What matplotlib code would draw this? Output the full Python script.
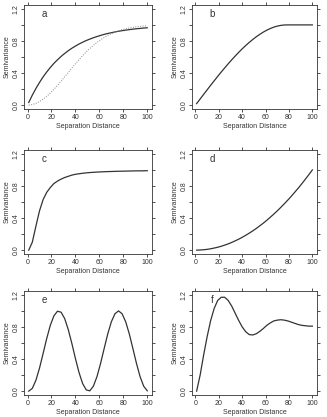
import matplotlib
matplotlib.use("Agg")
import matplotlib.pyplot as plt

plt.rcParams['font.family'] = ['Liberation Sans', 'DejaVu Sans']

# separation distance at which each model curve was read
distance = [1, 4, 7, 10, 13, 16, 19, 22, 25, 28, 31, 34, 37, 40, 43, 46, 49,
            52, 55, 58, 61, 64, 67, 70, 73, 76, 79, 82, 85, 88, 91, 94, 97, 100]

exp_a = [0.033, 0.125, 0.208, 0.283, 0.352, 0.413, 0.469, 0.520, 0.565, 0.607, 0.644, 0.678,
         0.709, 0.736, 0.762, 0.784, 0.805, 0.823, 0.840, 0.855, 0.869, 0.882, 0.893, 0.903,
         0.912, 0.921, 0.928, 0.935, 0.941, 0.947, 0.952, 0.956, 0.961, 0.964]
gauss_a = [0.000, 0.007, 0.022, 0.044, 0.074, 0.109, 0.151, 0.197, 0.246, 0.299, 0.353, 0.407,
           0.462, 0.515, 0.567, 0.616, 0.663, 0.706, 0.746, 0.782, 0.814, 0.843, 0.869, 0.891,
           0.910, 0.927, 0.941, 0.952, 0.962, 0.970, 0.976, 0.982, 0.986, 0.989]
sph_b = [0.019, 0.077, 0.134, 0.191, 0.248, 0.303, 0.358, 0.412, 0.464, 0.515, 0.565, 0.612,
         0.658, 0.702, 0.743, 0.782, 0.818, 0.852, 0.882, 0.910, 0.934, 0.955, 0.972, 0.985,
         0.994, 0.999, 1.000, 1.000, 1.000, 1.000, 1.000, 1.000, 1.000, 1.000]
curve_c = [0.000, 0.100, 0.300, 0.490, 0.630, 0.720, 0.780, 0.830, 0.860, 0.885, 0.905, 0.920,
           0.935, 0.945, 0.952, 0.958, 0.963, 0.967, 0.970, 0.973, 0.975, 0.977, 0.979, 0.980,
           0.982, 0.983, 0.984, 0.985, 0.986, 0.987, 0.988, 0.988, 0.989, 0.990]
power_d = [0.000, 0.002, 0.005, 0.010, 0.017, 0.026, 0.036, 0.048, 0.063, 0.078, 0.096, 0.116,
           0.137, 0.160, 0.185, 0.212, 0.240, 0.270, 0.303, 0.336, 0.372, 0.410, 0.449, 0.490,
           0.533, 0.578, 0.624, 0.672, 0.723, 0.774, 0.828, 0.884, 0.941, 1.000]
wave_e = [0.000, 0.035, 0.136, 0.287, 0.469, 0.655, 0.819, 0.938, 0.996, 0.984, 0.905, 0.768,
          0.595, 0.406, 0.232, 0.095, 0.016, 0.004, 0.062, 0.181, 0.345, 0.531, 0.713, 0.864,
          0.964, 1.000, 0.964, 0.864, 0.713, 0.531, 0.345, 0.181, 0.062, 0.004]
hole_f = [0.000, 0.200, 0.450, 0.680, 0.880, 1.030, 1.130, 1.170, 1.170, 1.130, 1.060, 0.970,
          0.880, 0.800, 0.740, 0.705, 0.700, 0.715, 0.745, 0.780, 0.820, 0.850, 0.875, 0.885,
          0.890, 0.885, 0.875, 0.860, 0.845, 0.830, 0.820, 0.815, 0.810, 0.810]

panel_labels = ['a', 'b', 'c', 'd', 'e', 'f']
panel_curves = [[exp_a, gauss_a], [sph_b], [curve_c], [power_d], [wave_e], [hole_f]]

xticks = [0, 20, 40, 60, 80, 100]
yticks = [0.0, 0.4, 0.8, 1.2]
ylabels = ['0.0', '0.4', '0.8', '1.2']
yminor = [0.2, 0.6, 1.0]

fig = plt.figure(figsize=(3.27, 4.17), dpi=100)
W, H = 327.0, 417.0
lefts = [24, 192]
widths = [128, 125]
tops = [5, 150, 291]
height = 104

ink = '#333333'
for i, label in enumerate(panel_labels):
    r, c = divmod(i, 2)
    ax = fig.add_axes([lefts[c] / W, 1 - (tops[r] + height) / H, widths[c] / W, height / H])
    for j, ys in enumerate(panel_curves[i]):
        if j == 0:
            ax.plot(distance, ys, color=ink, lw=0.9)
        else:
            ax.plot(distance, ys, color='#888888', lw=0.7, ls=(0, (1, 1.5)))
    ax.set_xlim(-2.96, 103.96)
    ax.set_ylim(-0.048, 1.248)
    ax.set_xticks(xticks)
    ax.set_yticks(yticks)
    ax.set_yticklabels(ylabels, rotation=90, va='center')
    ax.set_yticks(yminor, minor=True)
    ax.tick_params(axis='both', which='both', direction='out', length=2.2, width=0.6,
                   color=ink, labelcolor=ink, labelsize=5, pad=1.5,
                   top=True, right=True)
    ax.tick_params(axis='y', which='major', pad=1)
    for sp in ax.spines.values():
        sp.set_linewidth(0.6)
        sp.set_color(ink)
    ax.set_xlabel('Separation Distance', fontsize=5, color=ink, labelpad=1.2)
    ax.set_ylabel('Semivariance', fontsize=5, color=ink, labelpad=1.5)
    ax.text(14, 1.13, label, fontsize=7, color=ink, ha='center', va='center')

fig.savefig('out.png', dpi=100)
